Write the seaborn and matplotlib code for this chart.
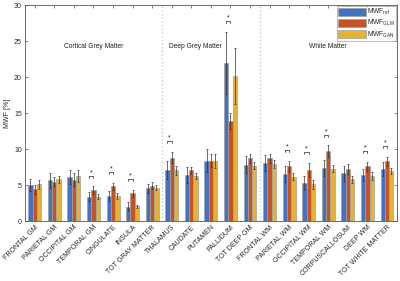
import matplotlib
matplotlib.use("Agg")
import matplotlib.pyplot as plt
import numpy as np
import pandas as pd
import seaborn as sns

# regions in plot order
regions = [
    "FRONTAL GM", "PARIETAL GM", "OCCIPITAL GM", "TEMPORAL GM", "CINGULATE",
    "INSULA", "TOT GRAY MATTER", "THALAMUS", "CAUDATE", "PUTAMEN", "PALLIDUM",
    "TOT DEEP GM", "FRONTAL WM", "PARIETAL WM", "OCCIPITAL WM", "TEMPORAL WM",
    "CORPUSCALLOSUM", "DEEP WM", "TOT WHITE MATTER",
]
methods = ["MWF$_{ref}$", "MWF$_{GLM}$", "MWF$_{GAN}$"]

mwf_ref = [5.0, 5.65, 6.1, 3.4, 3.5, 2.0, 4.55, 7.1, 6.4, 8.4, 22.0,
           7.8, 8.1, 6.5, 5.3, 7.35, 6.6, 6.4, 7.2]
mwf_glm = [4.4, 5.45, 5.75, 4.3, 4.8, 3.85, 4.9, 8.8, 7.05, 8.4, 13.9,
           8.7, 8.7, 7.6, 7.05, 9.7, 7.2, 7.6, 8.3]
mwf_gan = [5.1, 5.8, 6.25, 3.4, 3.5, 2.05, 4.65, 7.05, 6.3, 8.3, 20.2,
           7.7, 7.9, 6.15, 5.1, 7.25, 5.8, 6.25, 6.95]

err_ref = [0.9, 1.0, 1.0, 0.6, 0.7, 0.6, 0.6, 1.2, 1.1, 1.6, 4.3,
           1.2, 1.1, 1.1, 1.0, 1.1, 1.0, 0.8, 1.0]
err_glm = [0.6, 0.6, 0.9, 0.5, 0.5, 0.5, 0.5, 0.8, 0.5, 0.9, 1.1,
           0.6, 0.6, 0.8, 1.0, 0.8, 0.7, 0.6, 0.6]
err_gan = [0.6, 0.5, 0.8, 0.4, 0.4, 0.2, 0.4, 0.6, 0.4, 1.0, 3.9,
           0.5, 0.6, 0.5, 0.6, 0.5, 0.5, 0.5, 0.4]

# regions where ref vs GLM is significant
significant = ["TEMPORAL GM", "CINGULATE", "INSULA", "THALAMUS", "PALLIDUM",
               "PARIETAL WM", "OCCIPITAL WM", "TEMPORAL WM", "DEEP WM",
               "TOT WHITE MATTER"]

groups = ["Cortical Grey Matter", "Deep Grey Matter", "White Matter"]
group_x = [3.0, 8.2, 15.0]
group_bounds = [6.5, 11.5]

colors = ["#4172c4", "#c45426", "#e5b234"]

df = pd.DataFrame({
    "region": regions * 3,
    "mwf": mwf_ref + mwf_glm + mwf_gan,
    "method": np.repeat(methods, len(regions)),
})

sns.set_theme(style="ticks")
plt.rcParams["font.family"] = ["Liberation Sans", "DejaVu Sans"]
plt.rcParams["mathtext.fontset"] = "custom"
plt.rcParams["mathtext.rm"] = "Liberation Sans"
plt.rcParams["mathtext.it"] = "Liberation Sans"

fig = plt.figure(figsize=(4.0, 2.81), dpi=100)
ax = fig.add_axes([0.0615, 0.2135, 0.931, 0.7685])

sns.barplot(data=df, x="region", y="mwf", hue="method", palette=colors,
            saturation=1, width=0.66, errorbar=None, edgecolor="#a0a0a0",
            linewidth=0.5, ax=ax)

# error bars from the bar containers
for cont, errs in zip(ax.containers, [err_ref, err_glm, err_gan]):
    xs = [p.get_x() + p.get_width() / 2 for p in cont.patches]
    ys = [p.get_height() for p in cont.patches]
    ax.errorbar(xs, ys, yerr=errs, fmt="none", ecolor="#333333",
                elinewidth=0.5, capsize=1.0, capthick=0.5, zorder=5)

# significance brackets between ref and GLM
ref_x = [p.get_x() + p.get_width() / 2 for p in ax.containers[0].patches]
glm_x = [p.get_x() + p.get_width() / 2 for p in ax.containers[1].patches]
for name in significant:
    i = regions.index(name)
    top = max(mwf_ref[i] + err_ref[i], mwf_glm[i] + err_glm[i]) + 1.5
    ax.plot([ref_x[i], ref_x[i], glm_x[i], glm_x[i]],
            [top - 0.3, top, top, top - 0.3], color="#222222", lw=0.5)
    ax.text((ref_x[i] + glm_x[i]) / 2, top - 0.05, "*", ha="center",
            va="bottom", fontsize=5, color="#222222")

for xb in group_bounds:
    ax.axvline(xb, color="#c8c8c8", ls=":", lw=1.0, zorder=0)

for name, gx in zip(groups, group_x):
    ax.text(gx, 24.3, name, ha="center", va="center", fontsize=4.8,
            color="#222222")

ax.set_xlim(-0.52, 18.51)
ax.set_ylim(0, 30)
ax.set_yticks(range(0, 31, 5))
ax.set_xlabel("")
ax.set_ylabel("MWF [%]", fontsize=5, labelpad=2)
ax.tick_params(axis="both", direction="in", top=True, right=True,
               length=2, width=0.5, labelsize=5, pad=2, color="#555555")
plt.setp(ax.get_xticklabels(), rotation=45, ha="right",
         rotation_mode="anchor")
for sp in ax.spines.values():
    sp.set_visible(True)
    sp.set_linewidth(0.6)
    sp.set_color("#555555")

handles, labels = ax.get_legend_handles_labels()
ax.legend(handles, labels, loc="upper right", fontsize=4.8,
          handlelength=4.2, handleheight=1.5, handletextpad=0.2,
          borderpad=0.2, labelspacing=0.15, frameon=True, fancybox=False,
          edgecolor="#888888", borderaxespad=0.1)
ax.get_legend().get_frame().set_linewidth(0.5)

fig.savefig("out.png", dpi=100)
